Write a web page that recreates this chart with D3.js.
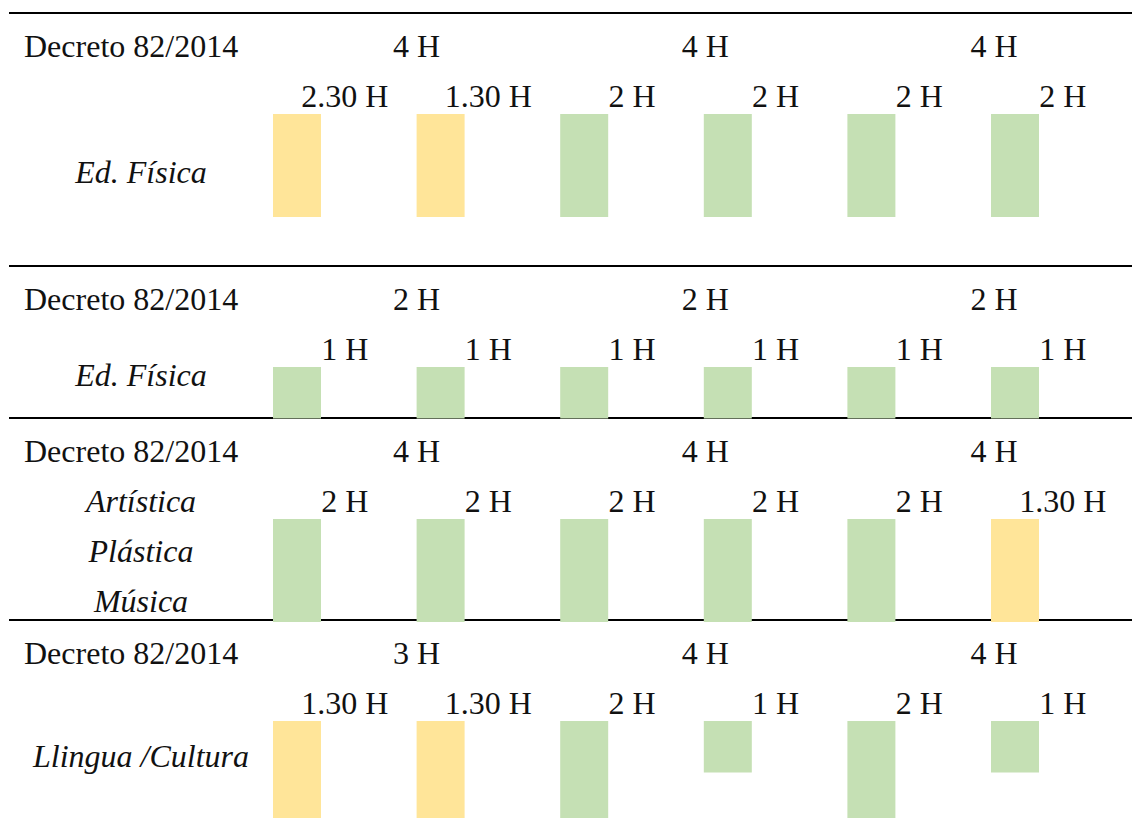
<!DOCTYPE html>
<html>
<head>
<meta charset="utf-8">
<script src="https://cdn.jsdelivr.net/npm/d3@7"></script>
<style>
  body { margin: 0; background: #fff; }
  text { font-family: "Liberation Serif", "Times New Roman", serif; font-size: 32px; fill: #111; }
</style>
</head>
<body>
<div id="chart"></div>
<script>
// dades llegides de la imatge
var decreto = "Decreto 82/2014";
var subjects = [["Ed. Física"], ["Ed. Física"], ["Artística", "Plástica", "Música"], ["Llingua /Cultura"]];
var groupHours = [
    ["4 H", "4 H", "4 H"],
    ["2 H", "2 H", "2 H"],
    ["4 H", "4 H", "4 H"],
    ["3 H", "4 H", "4 H"]
];
var courseHours = [
    ["2.30 H", "1.30 H", "2 H", "2 H", "2 H", "2 H"],
    ["1 H", "1 H", "1 H", "1 H", "1 H", "1 H"],
    ["2 H", "2 H", "2 H", "2 H", "2 H", "1.30 H"],
    ["1.30 H", "1.30 H", "2 H", "1 H", "2 H", "1 H"]
];
// alçada de la barra (hores dibuixades)
var barValues = [
    [2, 2, 2, 2, 2, 2],
    [1, 1, 1, 1, 1, 1],
    [2, 2, 2, 2, 2, 2],
    [2, 2, 2, 1, 2, 1]
];
// 1 = per sota del decret (groc)
var below = [
    [1, 1, 0, 0, 0, 0],
    [0, 0, 0, 0, 0, 0],
    [0, 0, 0, 0, 0, 1],
    [1, 1, 0, 0, 0, 0]
];

var width = 1132,
    height = 818;

var panelTop = [13, 266, 418, 620];
var subjectY = [183, 386, 512, 767];

var colors = ["#c5e0b4", "#ffe599"];

var x = d3.scaleBand()
    .domain(d3.range(6))
    .range([273, 273 + 6 * 143.6]);

var h = d3.scaleLinear()
    .domain([0, 2])
    .range([0, 103]);

var svg = d3.select('#chart')
    .append('svg')
    .attr('width', width)
    .attr('height', height);

// línies separadores
svg.selectAll('line.sep')
    .data(panelTop)
    .enter().append('line')
    .attr('class', 'sep')
    .attr('x1', 9)
    .attr('x2', width)
    .attr('y1', function (d) { return d; })
    .attr('y2', function (d) { return d; })
    .attr('stroke', '#000')
    .attr('stroke-width', 2.2);

var panel = svg.selectAll('g.panel')
    .data(panelTop)
    .enter().append('g')
    .attr('class', 'panel')
    .attr('transform', function (d) {
        return 'translate(0,' + d + ')';
    });

panel.each(function (top, p) {
    var g = d3.select(this);

    // barres
    g.selectAll('rect')
        .data(barValues[p])
        .enter().append('rect')
        .attr('x', function (d, i) { return x(i); })
        .attr('y', 101)
        .attr('width', 48)
        .attr('height', function (d) { return h(d); })
        .attr('fill', function (d, i) { return colors[below[p][i]]; });

    g.append('text')
        .attr('x', 24)
        .attr('y', 44)
        .text(decreto);

    // hores per cicle
    g.selectAll('text.group')
        .data(groupHours[p])
        .enter().append('text')
        .attr('class', 'group')
        .attr('x', function (d, i) { return x(i * 2) + x.step() + i * 1.5; })
        .attr('y', 44)
        .attr('text-anchor', 'middle')
        .text(function (d) { return d; });

    // hores per curs
    g.selectAll('text.course')
        .data(courseHours[p])
        .enter().append('text')
        .attr('class', 'course')
        .attr('x', function (d, i) { return x(i) + x.step() / 2; })
        .attr('y', 94)
        .attr('text-anchor', 'middle')
        .text(function (d) { return d; });

    g.selectAll('text.subject')
        .data(subjects[p])
        .enter().append('text')
        .attr('class', 'subject')
        .attr('x', 141)
        .attr('y', function (d, i) { return subjectY[p] - top + i * 50; })
        .attr('text-anchor', 'middle')
        .style('font-style', 'italic')
        .text(function (d) { return d; });
});
</script>
</body>
</html>
